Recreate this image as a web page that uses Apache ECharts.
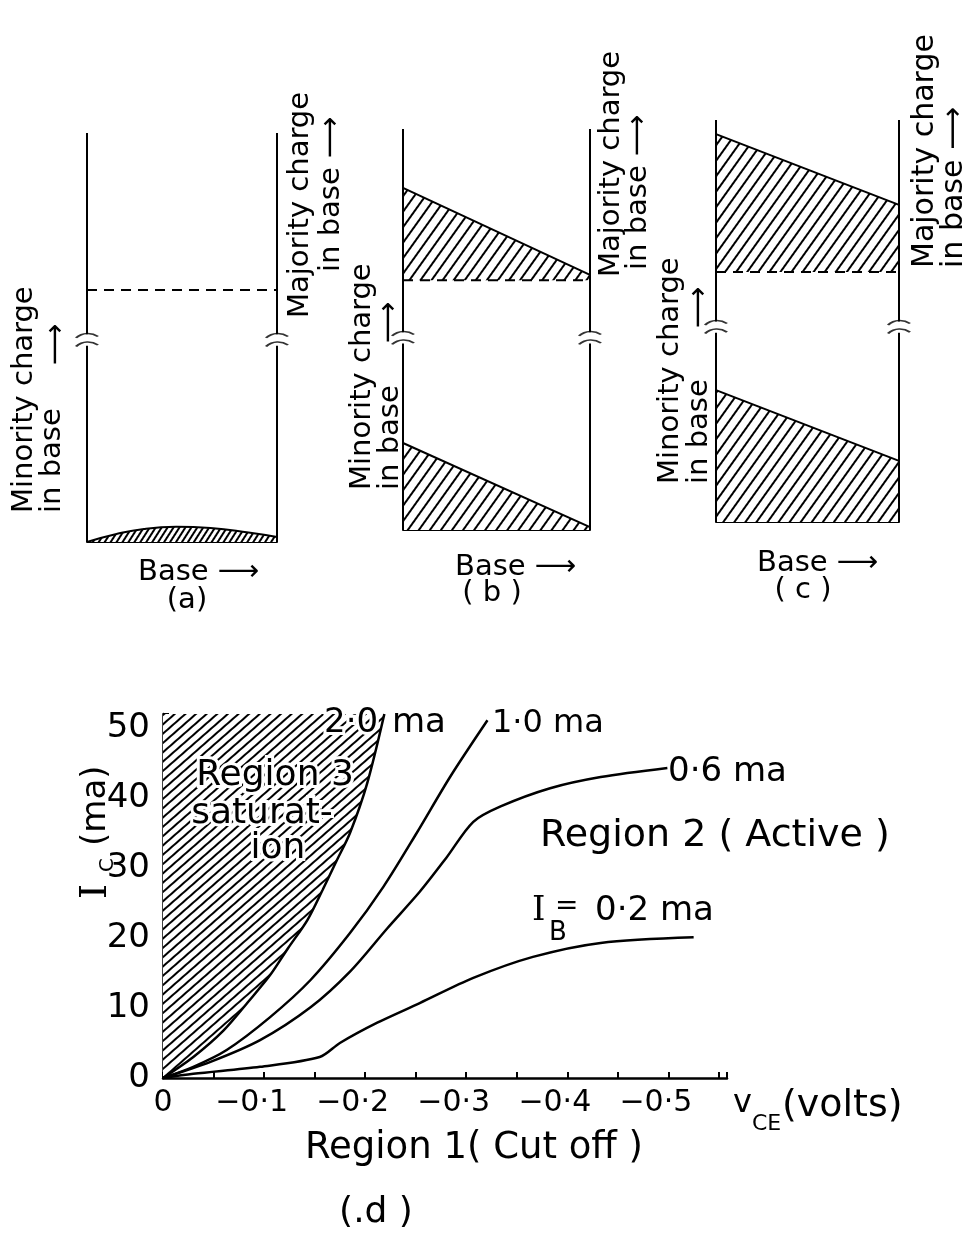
<!DOCTYPE html>
<html>
<head>
<meta charset="utf-8">
<title>Charge in base and collector characteristics</title>
<script src="https://cdn.jsdelivr.net/npm/echarts@6.0.0/dist/echarts.min.js"></script>
<style>
html, body { margin: 0; padding: 0; background: #fff; }
#chart { width: 967px; height: 1239px; }
</style>
</head>
<body>
<div id="chart"></div>
<script>
// (a) (b) (c): charge in base, x = position across the base (0..1), y = % of wall height
var breakLevel = [49.4, 47.9, 48.5];
var majorityLevel = [61.6, 62.3, 62.2];
var minorityA = [[0, 0], [0.15, 1.9], [0.3, 3.2], [0.47, 3.7], [0.65, 3.4], [0.85, 2.3], [1, 1.2]];
var minorityB = [[0, 21.7], [1, 0.7]];
var minorityC = [[0, 32.8], [1, 15.2]];
var majorityB = [[0, 85.3], [1, 63.6]];
var majorityC = [[0, 96.5], [1, 78.9]];
var diagNames = ['(a)', '( b )', '( c )'];

// (d): x = -VCE (volts), y = IC (ma), one curve per base current
var ibLabels = ['2·0', '1·0', '0·6', '0·2'];
var ib20 = [[0, 0], [0.03, 3], [0.06, 6.8], [0.085, 11], [0.106, 14.7], [0.124, 18.6], [0.143, 22.6],
  [0.158, 26.9], [0.172, 31.1], [0.185, 35], [0.202, 42.1], [0.219, 52]];
var ib10 = [[0, 0], [0.03, 1.6], [0.063, 4], [0.106, 8.7], [0.146, 14], [0.185, 20.7], [0.218, 27.3],
  [0.251, 35], [0.284, 43], [0.321, 51.1]];
var ib06 = [[0, 0], [0.047, 2.3], [0.096, 5.4], [0.146, 10.1], [0.185, 15.2], [0.222, 21.4], [0.254, 26.6],
  [0.28, 31.4], [0.307, 36.6], [0.334, 38.8], [0.383, 41.4], [0.433, 43], [0.499, 44.3]];
var ib02 = [[0, 0], [0.03, 0.6], [0.096, 1.6], [0.155, 3], [0.175, 5], [0.212, 7.9], [0.254, 10.7],
  [0.307, 14.3], [0.366, 17.3], [0.433, 19.3], [0.525, 20.1]];
var vceTicks = [0, 0.1, 0.2, 0.3, 0.4, 0.5];
var icTicks = [0, 10, 20, 30, 40, 50];

var FONT = 'DejaVu Sans';
var BLACK = '#000';
var BREAK = 'path://M0,4 C3,0 7,0 10,3 M0,10 C3,6 7,6 10,9';

function hatch(rot, gap, w) {
  return {
    symbol: 'rect', symbolSize: 1, color: BLACK,
    dashArrayX: [1, 0], dashArrayY: [w || 2, gap], rotation: rot
  };
}

function wallData(x, brk) {
  return [[x, 0], [x, brk - 1.4], [x, '-'], [x, brk + 1.4], [x, 100]];
}

function txt(s, x, y, size, extra) {
  var el = {
    type: 'text', x: x, y: y, z: 100, silent: true,
    style: {
      text: s, fontSize: size, fontFamily: FONT, fill: BLACK,
      align: 'left', verticalAlign: 'middle', textAlign: 'left', textVerticalAlign: 'middle'
    }
  };
  if (extra) {
    for (var k in extra) el.style[k] = extra[k];
  }
  return el;
}
function up(s, x, y, size, extra) {
  var el = txt(s, x, y, size, extra);
  el.rotation = Math.PI / 2;
  return el;
}
function mid(s, x, y, size, extra) {
  var e = { align: 'center', textAlign: 'center' };
  if (extra) for (var k in extra) e[k] = extra[k];
  return txt(s, x, y, size, e);
}

var grids = [
  { left: 87, top: 133, width: 190, height: 409 },
  { left: 403, top: 129, width: 187, height: 401 },
  { left: 716, top: 120, width: 183, height: 402 },
  { left: 163, top: 714, width: 564, height: 364 }
];
grids.forEach(function (g) { g.containLabel = false; g.outerBoundsMode = 'none'; });

var xAxes = [], yAxes = [], series = [];
var diagrams = [
  { minority: minorityA, majority: null },
  { minority: minorityB, majority: majorityB },
  { minority: minorityC, majority: majorityC }
];

diagrams.forEach(function (d, i) {
  xAxes.push({
    gridIndex: i, type: 'value', min: 0, max: 1,
    axisLine: { show: true, onZero: false, lineStyle: { color: BLACK, width: 2 } },
    axisTick: { show: false }, axisLabel: { show: false }, splitLine: { show: false }
  });
  yAxes.push({ gridIndex: i, type: 'value', min: 0, max: 100, show: false, splitLine: { show: false } });

  var on = { xAxisIndex: i, yAxisIndex: i, symbol: 'none', silent: true, clip: false, animation: false };
  [0, 1].forEach(function (x) {
    series.push(Object.assign({}, on, {
      type: 'line', data: wallData(x, breakLevel[i]), z: 5,
      lineStyle: { color: BLACK, width: 2 }
    }));
  });
  series.push(Object.assign({}, on, {
    type: 'scatter', data: [[0, breakLevel[i]], [1, breakLevel[i]]], z: 6,
    symbol: BREAK, symbolSize: [22, 13],
    itemStyle: { color: 'none', borderColor: BLACK, borderWidth: 2 }
  }));
  var lowHatch = i === 0 ? hatch(-1.0, 3, 1.5) : hatch(-0.95, 6.5);
  series.push(Object.assign({}, on, {
    type: 'line', data: d.minority, z: 3, smooth: i === 0 ? 0.5 : 0,
    lineStyle: { color: BLACK, width: 2 },
    itemStyle: { color: BLACK, decal: lowHatch },
    areaStyle: { color: '#fff', opacity: 1, origin: 'start' }
  }));
  if (d.majority) {
    series.push(Object.assign({}, on, {
      type: 'line', data: d.majority, z: 3,
      lineStyle: { color: BLACK, width: 2 },
      itemStyle: { color: BLACK, decal: hatch(-0.95, 6.5) },
      areaStyle: { color: '#fff', opacity: 1, origin: majorityLevel[i] }
    }));
  }
  series.push(Object.assign({}, on, {
    type: 'line', data: [[0, majorityLevel[i]], [1, majorityLevel[i]]], z: 4,
    lineStyle: { color: BLACK, width: 2, type: [10, 7] }
  }));
});

// (d)
xAxes.push({
  gridIndex: 3, type: 'value', min: 0, max: 0.558, interval: 0.05,
  axisLine: { show: true, onZero: false, lineStyle: { color: BLACK, width: 2.5 } },
  axisTick: { show: true, inside: true, length: 6, lineStyle: { color: BLACK, width: 2 } },
  splitLine: { show: false },
  axisLabel: {
    margin: 10, color: BLACK, fontSize: 30, fontFamily: FONT,
    formatter: function (v) {
      var k = Math.round(v * 100) / 100;
      if (vceTicks.indexOf(k) < 0) return '';
      if (k === 0) return '0';
      return '{n|−' + String(k).replace('.', '·') + '}';
    },
    rich: { n: { fontSize: 30, fontFamily: FONT, color: BLACK, padding: [0, 25, 0, 0] } }
  }
});
yAxes.push({
  gridIndex: 3, type: 'value', min: 0, max: 52, interval: 10,
  axisLine: { show: true, onZero: false, lineStyle: { color: BLACK, width: 2.5 } },
  axisTick: { show: true, inside: true, length: 6, lineStyle: { color: BLACK, width: 2 } },
  splitLine: { show: false },
  axisLabel: {
    margin: 13, color: BLACK, fontSize: 34, fontFamily: FONT,
    formatter: function (v) { return icTicks.indexOf(v) >= 0 ? String(v) : ''; }
  }
});

[ib20, ib10, ib06, ib02].forEach(function (c, k) {
  var s = {
    type: 'line', xAxisIndex: 3, yAxisIndex: 3, data: c, symbol: 'none', silent: true,
    animation: false, smooth: 0.3, z: 3,
    lineStyle: { color: BLACK, width: 2.5 },
    itemStyle: { color: BLACK }
  };
  if (k === 0) {
    s.z = 2;
    s.areaStyle = { color: '#fff', opacity: 1, origin: 'end' };
    s.itemStyle.decal = hatch(-0.72, 4.5, 2);
  }
  series.push(s);
});

var halo = { stroke: '#fff', lineWidth: 6, strokeFirst: true };
var texts = [
  // (a)
  up('Minority charge', 24, 513, 29), up('in base', 52, 513, 29), up('⟶', 56, 365, 29),
  up('Majority charge', 300, 318, 29), up('in base ⟶', 331, 272, 29),
  txt('Base ⟶', 138, 572, 29), mid(diagNames[0], 187, 600, 29),
  // (b)
  up('Minority charge', 362, 490, 29), up('in base', 390, 490, 29), up('⟶', 389, 343, 29),
  up('Majority charge', 611, 277, 29), up('in base ⟶', 638, 270, 29),
  txt('Base ⟶', 455, 567, 29), mid(diagNames[1], 492, 593, 29),
  // (c)
  up('Minority charge', 670, 484, 29), up('in base', 699, 484, 29), up('⟶', 699, 328, 29),
  up('Majority charge', 925, 268, 30), up('in base ⟶', 954, 268, 30),
  txt('Base ⟶', 757, 563, 29), mid(diagNames[2], 803, 590, 29),
  // (d)
  txt(ibLabels[0], 324, 723, 34, halo), txt('ma', 392, 723, 34),
  txt(ibLabels[1] + ' ma', 492, 724, 32),
  txt(ibLabels[2] + ' ma', 668, 772, 34),
  txt('Region 2 ( Active )', 540, 836, 38),
  txt('I', 532, 911, 34, { fontFamily: 'DejaVu Serif' }), txt('B', 549, 933, 26),
  txt('=', 555, 907, 28), txt(ibLabels[3] + ' ma', 595, 911, 34),
  mid('Region 3', 275, 776, 36, halo), mid('saturat-', 262, 814, 36, halo), mid('ion', 278, 849, 36, halo),
  up('I', 96, 899, 38, { fontFamily: 'DejaVu Serif' }), up('C', 108, 872, 20), up('(ma)', 96, 846, 34),
  txt('v', 733, 1104, 32), txt('CE', 752, 1124, 22), txt('(volts)', 782, 1106, 38),
  txt('Region 1( Cut off )', 305, 1148, 37),
  mid('(.d )', 376, 1213, 36)
];

var chart = echarts.init(document.getElementById('chart'), null, { renderer: 'canvas' });
chart.setOption({
  backgroundColor: '#fff',
  animation: false,
  grid: grids,
  xAxis: xAxes,
  yAxis: yAxes,
  series: series,
  graphic: { elements: texts }
});
</script>
</body>
</html>
